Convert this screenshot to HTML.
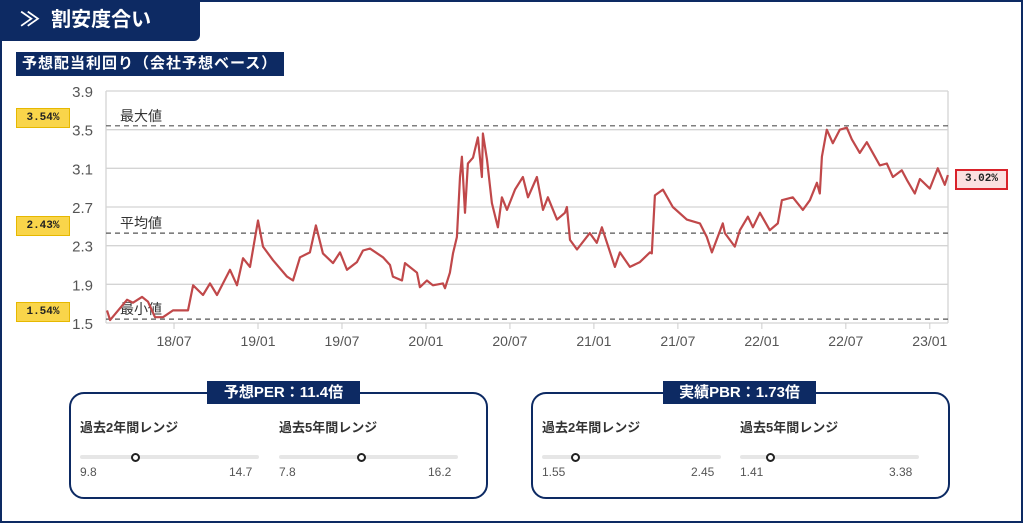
<!DOCTYPE html>
<html><head><meta charset="utf-8">
<style>
*{margin:0;padding:0;box-sizing:border-box}
body{width:1024px;height:524px;background:#fff;font-family:"Liberation Sans","Noto Sans CJK JP",sans-serif;position:relative;overflow:hidden}
.frame{position:absolute;left:0;top:0;width:1023px;height:523px;border:2px solid #0d2a63}
.tab{position:absolute;left:0;top:0;width:200px;height:41px;background:#0d2a63;color:#fff;font-weight:bold;font-size:20px;line-height:41px;padding-left:20px;border-bottom-right-radius:6px}
.sub{position:absolute;left:16px;top:52px;width:268px;height:24px;background:#0d2a63;color:#fff;font-weight:bold;font-size:15px;line-height:24px;padding-left:6px;letter-spacing:1px}
.badge{position:absolute;left:16px;width:54px;height:20px;background:#f9d54a;border:1px solid #e6b800;font-family:"Liberation Mono",monospace;font-weight:bold;font-size:11px;text-align:center;line-height:18px;color:#222}
.cur{position:absolute;left:955px;top:169px;width:53px;height:21px;background:#fbe0e0;border:2px solid #d9222a;font-family:"Liberation Mono",monospace;font-weight:bold;font-size:11px;text-align:center;line-height:17px;color:#222}
.panel{position:absolute;top:392px;width:419px;height:107px;border:2.5px solid #0d2a63;border-radius:15px}
.ptitle{position:absolute;top:381px;height:23px;background:#0d2a63;color:#fff;font-weight:bold;font-size:15px;line-height:23px;text-align:center}
.lab{position:absolute;font-size:13px;font-weight:bold;color:#333}
.track{position:absolute;height:4px;background:#e6e6e6;border-radius:2px}
.knob{position:absolute;width:9px;height:9px;border:2px solid #222;border-radius:50%;background:#fff}
.num{position:absolute;font-size:12px;color:#555}
</style></head><body>
<div class="frame"></div>
<div class="tab">≫&nbsp; 割安度合い</div>
<div class="sub">予想配当利回り（会社予想ベース）</div>
<div class="badge" style="top:108px">3.54%</div>
<div class="badge" style="top:216px">2.43%</div>
<div class="badge" style="top:302px">1.54%</div>
<div class="cur">3.02%</div>
<svg id="chart" width="1024" height="360" style="position:absolute;left:0;top:0"></svg>

<div class="panel" style="left:69px"></div>
<div class="ptitle" style="left:207px;width:153px">予想PER：11.4倍</div>
<div class="lab" style="left:80px;top:417px">過去2年間レンジ</div>
<div class="track" style="left:80px;top:455px;width:179px"></div>
<div class="knob" style="left:131px;top:453px"></div>
<div class="num" style="left:80px;top:465px">9.8</div>
<div class="num" style="left:229px;top:465px">14.7</div>
<div class="lab" style="left:279px;top:417px">過去5年間レンジ</div>
<div class="track" style="left:279px;top:455px;width:179px"></div>
<div class="knob" style="left:357px;top:453px"></div>
<div class="num" style="left:279px;top:465px">7.8</div>
<div class="num" style="left:428px;top:465px">16.2</div>

<div class="panel" style="left:531px"></div>
<div class="ptitle" style="left:663px;width:153px">実績PBR：1.73倍</div>
<div class="lab" style="left:542px;top:417px">過去2年間レンジ</div>
<div class="track" style="left:542px;top:455px;width:179px"></div>
<div class="knob" style="left:571px;top:453px"></div>
<div class="num" style="left:542px;top:465px">1.55</div>
<div class="num" style="left:691px;top:465px">2.45</div>
<div class="lab" style="left:740px;top:417px">過去5年間レンジ</div>
<div class="track" style="left:740px;top:455px;width:179px"></div>
<div class="knob" style="left:766px;top:453px"></div>
<div class="num" style="left:740px;top:465px">1.41</div>
<div class="num" style="left:889px;top:465px">3.38</div>

<script>
// months since 2018-01 (decimal)
const months=[1.21,1.43,2.64,3.07,3.71,4.14,4.64,5.21,5.93,7.0,7.36,8.07,8.57,9.07,10.0,10.5,10.93,11.43,12.0,12.36,13.07,14.07,14.5,15.0,15.71,16.14,16.64,17.36,17.86,18.36,19.07,19.5,20.0,20.93,21.43,21.64,22.29,22.5,23.36,23.57,24.07,24.5,25.21,25.36,25.71,25.93,26.21,26.43,26.57,26.79,27.0,27.36,27.71,28.0,28.07,28.36,28.71,29.14,29.43,29.79,30.36,30.93,31.29,31.93,32.36,32.71,33.36,33.93,34.07,34.29,34.79,35.71,36.21,36.57,37.5,37.86,38.57,39.29,40.0,40.14,40.36,40.93,41.64,42.64,43.57,44.07,44.43,45.21,45.36,46.07,46.43,47.0,47.36,47.86,48.57,49.14,49.43,50.21,50.93,51.43,51.93,52.14,52.29,52.64,53.07,53.57,54.07,54.43,55.0,55.5,55.93,56.43,56.93,57.36,58.0,58.36,58.93,59.29,60.0,60.57,61.07,61.29];
const yields=[1.63,1.53,1.74,1.71,1.77,1.72,1.56,1.56,1.63,1.63,1.89,1.79,1.91,1.79,2.05,1.89,2.17,2.08,2.56,2.29,2.15,1.98,1.94,2.18,2.23,2.51,2.22,2.12,2.23,2.05,2.13,2.25,2.27,2.18,2.10,1.98,1.94,2.12,2.02,1.87,1.94,1.89,1.91,1.86,2.02,2.22,2.39,3.01,3.22,2.64,3.15,3.21,3.42,3.01,3.46,3.19,2.74,2.49,2.80,2.67,2.88,3.01,2.80,3.01,2.67,2.80,2.57,2.64,2.70,2.36,2.26,2.43,2.33,2.49,2.08,2.23,2.08,2.13,2.23,2.22,2.82,2.88,2.70,2.57,2.53,2.39,2.23,2.53,2.43,2.29,2.46,2.60,2.49,2.64,2.46,2.53,2.77,2.80,2.67,2.77,2.95,2.84,3.22,3.50,3.36,3.50,3.52,3.40,3.26,3.37,3.26,3.13,3.15,3.01,3.08,2.98,2.84,2.99,2.89,3.10,2.93,3.03];
const yTicks=[1.5,1.9,2.3,2.7,3.1,3.5,3.9];
const xTickLabels=["18/07","19/01","19/07","20/01","20/07","21/01","21/07","22/01","22/07","23/01"];
const xTickMonths=[6,12,18,24,30,36,42,48,54,60];
const refValues=[3.54,2.43,1.54];
const refLabels=["最大値","平均値","最小値"];

const NS="http://www.w3.org/2000/svg",svg=document.getElementById('chart');
const L=106,R=948,T=91,B=323,ymin=1.5,ymax=3.9,m0=1.14,m1=61.3;
const X=m=>L+(m-m0)/(m1-m0)*(R-L);
const Y=v=>B-(v-ymin)/(ymax-ymin)*(B-T);
function el(t,a,p){const e=document.createElementNS(NS,t);for(const k in a)e.setAttribute(k,a[k]);(p||svg).appendChild(e);return e;}
yTicks.forEach(v=>{
  const g=el('line',{x1:L,x2:R,y1:Y(v),y2:Y(v),stroke:'#d4d4d4','stroke-width':1.3});
  
  
  const t=el('text',{x:93,y:Y(v)+6,'text-anchor':'end','font-size':15,fill:'#555','font-family':'Liberation Sans, sans-serif'});
  t.textContent=v.toFixed(1);
  
  
});
const ax=el('line',{x1:R,x2:R,y1:T,y2:B,stroke:'#d4d4d4','stroke-width':1.3});


const axl=el('line',{x1:L,x2:L,y1:T,y2:B,stroke:'#d4d4d4','stroke-width':1.3});


xTickMonths.forEach((m,i)=>{
  const tk=el('line',{x1:X(m),x2:X(m),y1:B,y2:B+6,stroke:'#ccc'});
  
  
  const t=el('text',{x:X(m),y:B+23,'text-anchor':'middle','font-size':14,fill:'#555','font-family':'Liberation Sans, sans-serif'});
  t.textContent=xTickLabels[i];
  
  
});
refValues.forEach((v,i)=>{
  const d=el('line',{x1:L,x2:R,y1:Y(v),y2:Y(v),stroke:'#555','stroke-width':1.2,'stroke-dasharray':'5,4'});
  
  
  const t=el('text',{x:120,y:Y(v)-5,'font-size':14,fill:'#333','font-family':'Liberation Sans, Noto Sans CJK JP, sans-serif'});
  t.textContent=refLabels[i];
  
  
});
const p=el('polyline',{points:months.map((m,i)=>X(m).toFixed(1)+','+Y(yields[i]).toFixed(1)).join(' '),fill:'none',stroke:'#c0484a','stroke-width':2.2,'stroke-linejoin':'round'});


</script>
</body></html>
